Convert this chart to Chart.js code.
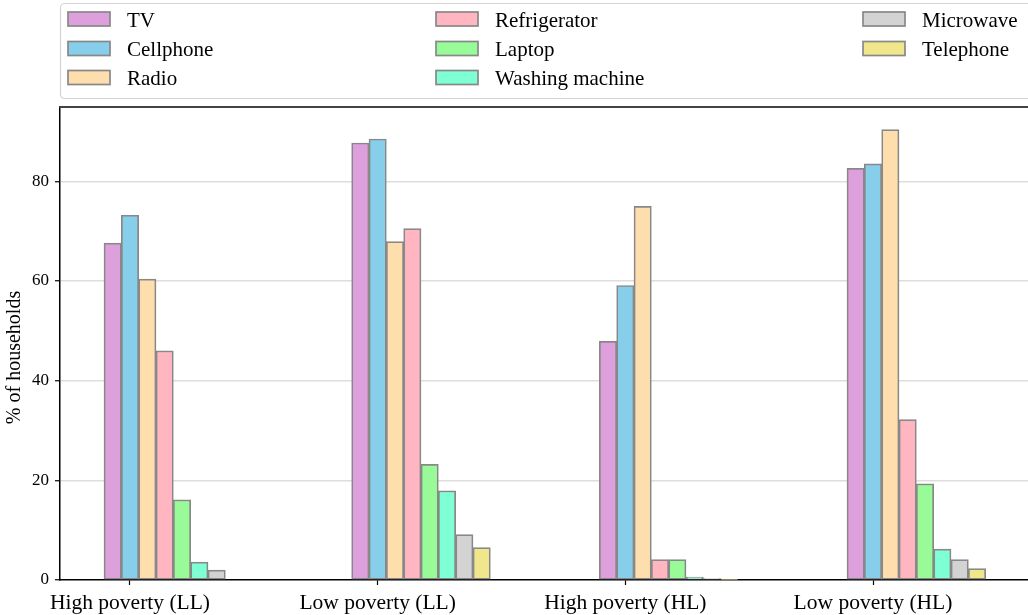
<!DOCTYPE html>
<html>
<head>
<meta charset="utf-8">
<script src="https://cdn.jsdelivr.net/npm/chart.js@4.4.1/dist/chart.umd.min.js"></script>
<style>
  html, body { margin: 0; padding: 0; background: #fff; overflow: hidden; width: 1028px; height: 615px; }
  #wrap { width: 1040px; height: 615px; }
</style>
</head>
<body>
<div id="wrap"><canvas id="c" width="1040" height="615"></canvas></div>
<script>
// Household asset ownership by poverty group
const groups = ['High poverty (LL)', 'Low poverty (LL)', 'High poverty (HL)', 'Low poverty (HL)'];
const seriesNames = ['TV', 'Cellphone', 'Radio', 'Refrigerator', 'Laptop', 'Washing machine', 'Microwave', 'Telephone'];
const yTitle = '% of households';

const tv           = [67.6, 87.7, 47.9, 82.6];
const cellphone    = [73.2, 88.5, 59.1, 83.5];
const radio        = [60.4, 67.9, 75.0, 90.4];
const refrigerator = [46.0, 70.5, 4.1, 32.2];
const laptop       = [16.1, 23.2, 4.1, 19.3];
const washing      = [3.6, 17.9, 0.6, 6.2];
const microwave    = [2.0, 9.1, 0.3, 4.1];
const telephone    = [0.0, 6.5, 0.1, 2.3];

const yTicks = [0, 20, 40, 60, 80];

const series = [tv, cellphone, radio, refrigerator, laptop, washing, microwave, telephone];
const colors = ['#DDA0DD', '#87CEEB', '#FFDEAD', '#FFB6C1', '#98FB98', '#7FFFD4', '#D3D3D3', '#F0E68C'];

const FONT = 'Liberation Serif, Times New Roman, serif';
const BAR_W = 0.07;          // bar width in x-axis units
const Y_MAX = 90.4 * 1.05;   // headroom above the tallest bar

const datasets = series.map((vals, i) => ({
  label: seriesNames[i],
  data: vals.map((v, g) => ({ x: g + (i - 1) * BAR_W, y: v })),
  backgroundColor: colors[i],
  borderColor: '#888888',
  borderWidth: 1.7,
  borderSkipped: false,
  grouped: false,
  barPercentage: 1,
  categoryPercentage: 1
}));

// Boxed three-column legend above the plot
const legendBox = {
  id: 'legendBox',
  afterDraw(chart) {
    const ctx = chart.ctx;
    const left = chart.chartArea.left;
    ctx.save();
    ctx.beginPath();
    ctx.roundRect(left + 0.5, 3.5, 980, 95, 4);
    ctx.fillStyle = '#fff';
    ctx.fill();
    ctx.lineWidth = 1.2;
    ctx.strokeStyle = '#d4d4d4';
    ctx.stroke();

    const colX = [left + 8, left + 376, left + 803];
    const rowY = [19, 48.5, 77.5];
    ctx.font = '21px ' + FONT;
    ctx.textBaseline = 'middle';
    ctx.textAlign = 'left';
    chart.data.datasets.forEach((ds, i) => {
      const cx = colX[Math.floor(i / 3)];
      const cy = rowY[i % 3];
      ctx.fillStyle = ds.backgroundColor;
      ctx.fillRect(cx, cy - 7, 42, 14);
      ctx.lineWidth = 1.7;
      ctx.strokeStyle = ds.borderColor;
      ctx.strokeRect(cx, cy - 7, 42, 14);
      ctx.fillStyle = '#000';
      ctx.fillText(ds.label, cx + 59, cy + 2);
    });
    ctx.restore();
  }
};

// Top frame line of the axes and the rotated y-axis title
const frameAndTitle = {
  id: 'frameAndTitle',
  afterDraw(chart) {
    const { left, right, top, bottom } = chart.chartArea;
    const ctx = chart.ctx;
    ctx.save();
    ctx.strokeStyle = '#444';
    ctx.lineWidth = 2;
    ctx.beginPath();
    ctx.moveTo(left - 0.75, top);
    ctx.lineTo(right, top);
    ctx.stroke();

    ctx.translate(15, (top + bottom) / 2 + 14);
    ctx.rotate(-Math.PI / 2);
    ctx.font = '20px ' + FONT;
    ctx.fillStyle = '#000';
    ctx.textAlign = 'center';
    ctx.textBaseline = 'middle';
    ctx.fillText(yTitle, 0, 0);
    ctx.restore();
  }
};

new Chart(document.getElementById('c'), {
  type: 'bar',
  data: { datasets },
  plugins: [legendBox, frameAndTitle],
  options: {
    responsive: false,
    animation: false,
    devicePixelRatio: 1,
    layout: { padding: { top: 107, right: 10, left: 0, bottom: 0 } },
    plugins: { legend: { display: false }, tooltip: { enabled: false } },
    scales: {
      x: {
        type: 'linear',
        offset: false,
        min: -0.2826,
        max: 3.6339,
        z: 1,
        afterBuildTicks: s => { s.ticks = groups.map((_, i) => ({ value: i })); },
        afterFit: s => { s.height = 35; },
        ticks: {
          autoSkip: false,
          maxRotation: 0,
          padding: 5,
          color: '#000',
          font: { family: FONT, size: 21.5 },
          callback: v => groups[Math.round(v)]
        },
        grid: { display: true, offset: false, drawOnChartArea: false, tickLength: 5, tickColor: '#000', tickWidth: 1.2 },
        border: { color: '#000', width: 1.5 }
      },
      y: {
        min: 0,
        max: Y_MAX,
        afterBuildTicks: s => { s.ticks = yTicks.map(v => ({ value: v })); },
        afterFit: s => { s.width = 60; },
        ticks: { color: '#000', padding: 6, font: { family: FONT, size: 17 } },
        grid: {
          color: c => (c.tick && c.tick.value === 0) ? 'rgba(0,0,0,0)' : '#dddddd',
          lineWidth: 1.5,
          tickLength: 5,
          tickColor: '#000',
          tickWidth: 1.2
        },
        border: { color: '#000', width: 1.5 }
      }
    }
  }
});
</script>
</body>
</html>
